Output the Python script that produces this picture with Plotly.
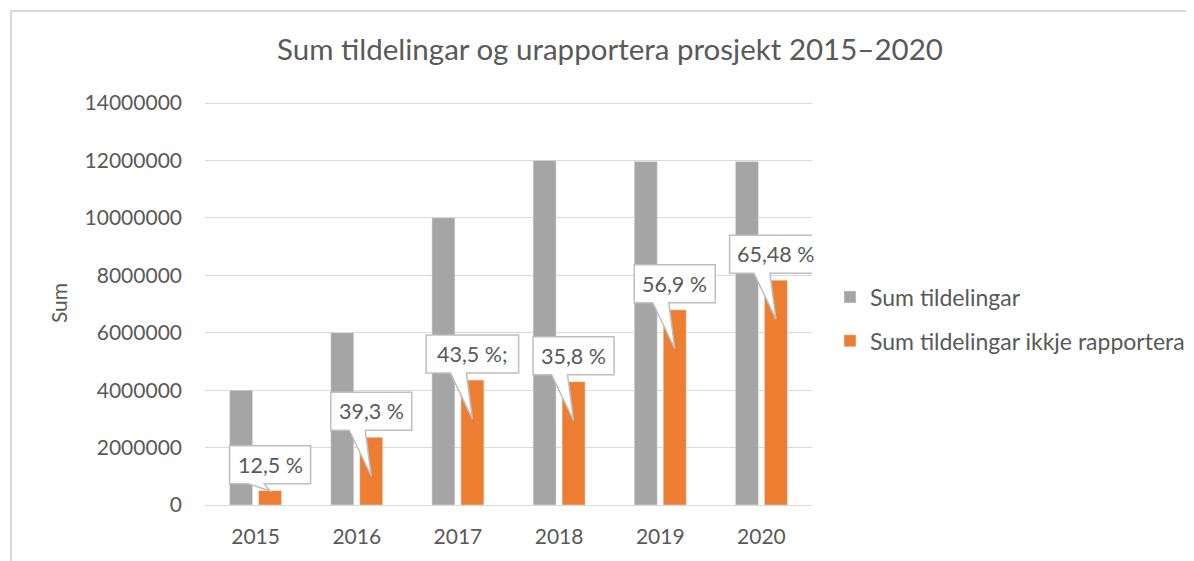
import plotly.graph_objects as go

years = ["2015", "2016", "2017", "2018", "2019", "2020"]
sum_tildelingar = [4000000, 6000000, 10000000, 12000000, 11960000, 11960000]
sum_ikkje_rapportera = [500000, 2358000, 4350000, 4296000, 6800000, 7830000]
callout_labels = ["12,5 %", "39,3 %", "43,5 %;", "35,8 %", "56,9 %", "65,48 %"]
y_ticks = [0, 2000000, 4000000, 6000000, 8000000, 10000000, 12000000, 14000000]

GREY = "#a5a5a5"
ORANGE = "#ed7d31"
TEXT = "#595959"
GRID = "#d9d9d9"
FONT = "Lato"

W, H = 1194, 561
OFF = 8  # page body margin
# plot area in page pixels, shifted for the body margin
L, T = 205 - OFF, 103 - OFF - 2
R, B = W - (812 - OFF), H - (505 - OFF)
plot_w = W - L - R
plot_h = H - T - B
y_max = 14000000
y_top = 14070000  # a bit of headroom so the top gridline is drawn

fig = go.Figure()

fig.add_trace(go.Bar(
    x=years, y=sum_tildelingar, name="Sum tildelingar",
    marker_color=GREY, legendgroup="a",
))
fig.add_trace(go.Bar(
    x=years, y=sum_ikkje_rapportera, name="Sum tildelingar ikkje rapportera",
    marker_color=ORANGE, legendgroup="b",
))

# callouts above the orange bars
dx = plot_w / 6 * (1 - 0.427) / 4  # centre of the orange bar in its group
box_bottom, box_h = 7, 38
shapes = []
annotations = []
for i, (val, label) in enumerate(zip(sum_ikkje_rapportera, callout_labels)):
    bar_px = val / y_top * plot_h
    depth = min(39, max(0, bar_px - 14))
    w = 11.5 * len(label) + 12
    l, r = dx - w / 2, dx + w / 2
    b, t = box_bottom, box_bottom + box_h
    path = (f"M {l:.1f},{b} L {dx - 22:.1f},{b} L {dx:.1f},{-depth:.1f} L {dx - 6:.1f},{b} "
            f"L {r:.1f},{b} L {r:.1f},{t} L {l:.1f},{t} Z")
    shapes.append(dict(
        type="path", xref="x", yref="y", xsizemode="pixel", ysizemode="pixel",
        xanchor=i, yanchor=val, path=path,
        fillcolor="white", line=dict(color="#bfbfbf", width=1.5), layer="above",
    ))
    annotations.append(dict(
        x=i, y=val, text=label, showarrow=False,
        xshift=dx, yshift=b + box_h / 2,
        font=dict(family=FONT, size=21.5, color=TEXT),
    ))

# outer chart frame
shapes.append(dict(
    type="rect", xref="paper", yref="paper",
    x0=(11 - OFF - L) / plot_w, x1=2, y0=-1, y1=(H - B - (11 - OFF)) / plot_h,
    line=dict(color=GRID, width=2), fillcolor="rgba(0,0,0,0)", layer="below",
))

fig.update_layout(
    width=W, height=H,
    margin=dict(l=L, r=R, t=T, b=B, autoexpand=False),
    paper_bgcolor="white",
    plot_bgcolor="white",
    font=dict(family=FONT, color=TEXT, size=21),
    title=dict(
        text="Sum tildelingar og urapportera prosjekt 2015–2020",
        x=(610 - OFF) / W, xanchor="center", y=1 - (50 - OFF) / H, yanchor="middle",
        font=dict(family=FONT, size=29.5, color=TEXT),
    ),
    barmode="group",
    bargap=0.427,
    bargroupgap=0.207,
    showlegend=True,
    legend=dict(
        x=(830 - OFF - L) / plot_w, xanchor="left",
        y=(H - B - (319 - OFF)) / plot_h, yanchor="middle",
        font=dict(family=FONT, size=23, color=TEXT),
        tracegroupgap=11, itemwidth=30,
        bgcolor="rgba(0,0,0,0)",
    ),
    xaxis=dict(
        type="category", range=[-0.5, 5.5],
        showgrid=False, showline=True, linecolor=GRID, linewidth=1,
        ticks="", ticklabelstandoff=13,
        tickfont=dict(family=FONT, size=21, color=TEXT),
    ),
    yaxis=dict(
        range=[0, y_top], tickvals=y_ticks, tickformat="d",
        showgrid=True, gridcolor=GRID, gridwidth=1,
        zeroline=False, showline=False, ticks="", ticklabelstandoff=22,
        tickfont=dict(family=FONT, size=21, color=TEXT),
        title=dict(text="Sum", standoff=11, font=dict(family=FONT, size=21, color=TEXT)),
    ),
    shapes=shapes,
    annotations=annotations,
)

fig.write_html("out.html")
